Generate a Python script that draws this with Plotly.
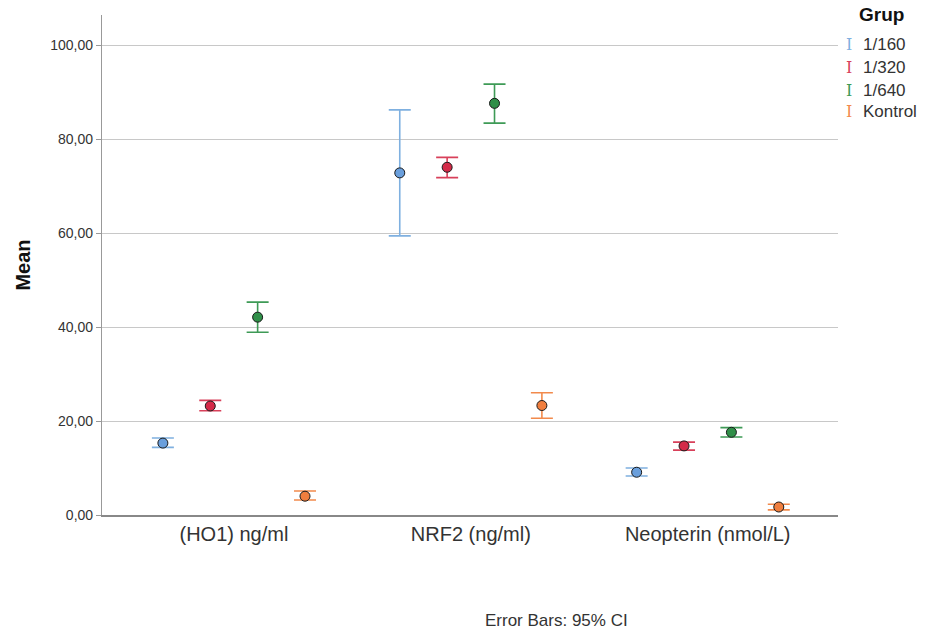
import plotly.graph_objects as go

categories = ["(HO1) ng/ml", "NRF2 (ng/ml)", "Neopterin (nmol/L)"]
groups = ["1/160", "1/320", "1/640", "Kontrol"]
colors = ["#6a9fdc", "#d42a48", "#2f8f48", "#f07e3e"]
bar_colors = ["#7fb0e0", "#d8405a", "#3e9a56", "#f28a4c"]

mean_1_160 = [15.3, 72.8, 9.1]
low_1_160 = [14.4, 59.4, 8.3]
high_1_160 = [16.4, 86.2, 10.0]

mean_1_320 = [23.2, 74.0, 14.7]
low_1_320 = [22.2, 71.8, 13.8]
high_1_320 = [24.4, 76.1, 15.5]

mean_1_640 = [42.1, 87.6, 17.6]
low_1_640 = [38.9, 83.4, 16.6]
high_1_640 = [45.3, 91.7, 18.6]

mean_kontrol = [4.0, 23.3, 1.7]
low_kontrol = [3.2, 20.6, 1.1]
high_kontrol = [5.1, 26.0, 2.3]

means = [mean_1_160, mean_1_320, mean_1_640, mean_kontrol]
lows = [low_1_160, low_1_320, low_1_640, low_kontrol]
highs = [high_1_160, high_1_320, high_1_640, high_kontrol]
offsets = [-0.3, -0.1, 0.1, 0.3]

fig = go.Figure()
for g, m, lo, hi, c, bc, off in zip(groups, means, lows, highs, colors, bar_colors, offsets):
    xs = [i + off for i in range(len(categories))]
    fig.add_trace(go.Scatter(
        x=xs, y=m, mode="markers", name=g, showlegend=False,
        marker=dict(size=10, color=c, line=dict(color="#1a1a1a", width=1)),
        error_y=dict(type="data", symmetric=False,
                     array=[h - v for h, v in zip(hi, m)],
                     arrayminus=[v - l for v, l in zip(m, lo)],
                     color=bc, thickness=1.6, width=11),
    ))

font = "Liberation Sans, Arial, sans-serif"
fig.update_layout(
    width=928, height=640,
    margin=dict(l=102, r=90, t=15, b=125),
    paper_bgcolor="white", plot_bgcolor="white",
    separators=",.",
    font=dict(family=font, color="#333333"),
    xaxis=dict(range=[-0.557, 2.55], tickmode="array", tickvals=[0, 1, 2],
               ticktext=categories, showgrid=False, zeroline=False,
               showline=True, linecolor="#888888", linewidth=1.5,
               ticks="", tickfont=dict(size=20, color="#333333")),
    yaxis=dict(range=[0, 106.4], tickvals=[0, 20, 40, 60, 80, 100],
               tickformat=".2f", showgrid=True, gridcolor="#c8c8c8",
               gridwidth=1.2, zeroline=False, showline=True,
               linecolor="#999999", linewidth=1.2, ticks="outside",
               ticklen=5, tickcolor="#999999",
               tickfont=dict(size=14, color="#333333"),
               title=dict(text="<b>Mean</b>", font=dict(size=20, color="#111111"),
                          standoff=14)),
)

annotations = [
    dict(text="<b>Grup</b>", x=881, y=14, font=dict(size=19, color="#111111")),
    dict(text="Error Bars: 95% CI", x=556, y=620, font=dict(size=17, color="#333333")),
]
legend_y = [44, 67, 90, 112]
for g, bc, ly in zip(groups, bar_colors, legend_y):
    annotations.append(dict(text="I", x=849, y=ly,
                            font=dict(size=16, color=bc, family="DejaVu Serif")))
    annotations.append(dict(text=g, x=861, y=ly, xanchor="left",
                            font=dict(size=17, color="#333333")))

for a in annotations:
    a.setdefault("xanchor", "center")
    a.update(xref="paper", yref="paper", showarrow=False, yanchor="middle")
    a["x"] = (a["x"] - 102) / (928 - 102 - 90)
    a["y"] = (640 - 125 - a["y"]) / (640 - 125 - 15)

fig.update_layout(annotations=annotations)
fig.write_html("out.html")
